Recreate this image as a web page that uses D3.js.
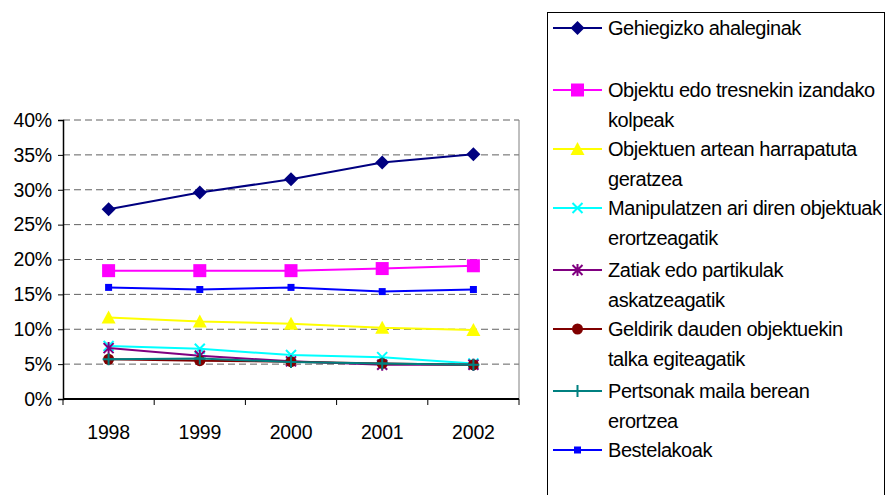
<!DOCTYPE html>
<html>
<head>
<meta charset="utf-8">
<script src="https://cdn.jsdelivr.net/npm/d3@7"></script>
<style>
  body { margin: 0; background: #fff; }
  svg { display: block; font-family: "Liberation Sans", Arial, sans-serif; }
</style>
</head>
<body>
<svg id="chart" width="887" height="495"></svg>
<script>
const years = ["1998", "1999", "2000", "2001", "2002"];
const yTicks = [0, 0.05, 0.10, 0.15, 0.20, 0.25, 0.30, 0.35, 0.40];

const gehiegizko = [0.272, 0.296, 0.315, 0.339, 0.351];
const objektu = [0.184, 0.184, 0.184, 0.187, 0.191];
const objektuen = [0.117, 0.111, 0.108, 0.102, 0.099];
const manipulatzen = [0.076, 0.072, 0.063, 0.060, 0.051];
const zatiak = [0.073, 0.062, 0.054, 0.049, 0.049];
const geldirik = [0.057, 0.055, 0.0535, 0.051, 0.049];
const pertsonak = [0.057, 0.058, 0.053, 0.051, 0.049];
const bestelakoak = [0.160, 0.157, 0.160, 0.154, 0.157];

const series = [
    {lines: ["Gehiegizko ahaleginak"], values: gehiegizko, color: "#000080", marker: "diamond"},
    {lines: ["Objektu edo tresnekin izandako", "kolpeak"], values: objektu, color: "#FF00FF", marker: "square"},
    {lines: ["Objektuen artean harrapatuta", "geratzea"], values: objektuen, color: "#FFFF00", marker: "triangle"},
    {lines: ["Manipulatzen ari diren objektuak", "erortzeagatik"], values: manipulatzen, color: "#00FFFF", marker: "x"},
    {lines: ["Zatiak edo partikulak", "askatzeagatik"], values: zatiak, color: "#800080", marker: "star"},
    {lines: ["Geldirik dauden objektuekin", "talka egiteagatik"], values: geldirik, color: "#800000", marker: "circle"},
    {lines: ["Pertsonak maila berean", "erortzea"], values: pertsonak, color: "#008080", marker: "plus"},
    {lines: ["Bestelakoak"], values: bestelakoak, color: "#0000FF", marker: "smallsquare"}
];

const plot = {left: 63, right: 519, top: 120, bottom: 399};

const svg = d3.select("#chart");

const x = d3.scaleBand()
    .domain(years)
    .range([plot.left, plot.right]);

const y = d3.scaleLinear()
    .domain([0, 0.4])
    .range([plot.bottom, plot.top]);

// gridlines
svg.append("g")
    .selectAll("line")
    .data(yTicks.filter(d => d > 0))
    .join("line")
    .attr("x1", plot.left)
    .attr("x2", plot.right)
    .attr("y1", d => y(d))
    .attr("y2", d => y(d))
    .attr("stroke", "#606060")
    .attr("stroke-width", 1)
    .attr("stroke-dasharray", "7,4");

// right border of plot area
svg.append("line")
    .attr("x1", plot.right).attr("x2", plot.right)
    .attr("y1", plot.top).attr("y2", plot.bottom)
    .attr("stroke", "#808080");

// y axis
const yAxis = svg.append("g")
    .attr("transform", "translate(" + plot.left + ",0)")
    .call(d3.axisLeft(y).tickValues(yTicks).tickFormat(d3.format(".0%")).tickSize(5).tickPadding(6));
yAxis.select(".domain").attr("stroke", "#000").attr("stroke-width", 1.5);
yAxis.selectAll(".tick line").attr("stroke", "#000");
yAxis.selectAll("text")
    .attr("font-size", 19.5)
    .attr("font-family", "Liberation Sans, Arial, sans-serif")
    .attr("letter-spacing", "-0.2px")
    .attr("fill", "#000");

// x axis with ticks between categories
const xAxis = svg.append("g")
    .attr("transform", "translate(0," + plot.bottom + ")");
xAxis.append("line")
    .attr("x1", plot.left).attr("x2", plot.right)
    .attr("stroke", "#000").attr("stroke-width", 2);
const bounds = years.map(d => x(d)).concat([plot.right]);
xAxis.selectAll(".xt")
    .data(bounds)
    .join("line")
    .attr("class", "xt")
    .attr("x1", d => d).attr("x2", d => d)
    .attr("y1", 0).attr("y2", 6)
    .attr("stroke", "#000");
xAxis.selectAll(".xl")
    .data(years)
    .join("text")
    .attr("class", "xl")
    .attr("x", d => x(d) + x.bandwidth() / 2)
    .attr("y", 40)
    .attr("text-anchor", "middle")
    .attr("font-size", 19.5)
    .attr("letter-spacing", "-0.2px")
    .text(d => d);

const cx = (d, i) => x(years[i]) + x.bandwidth() / 2;

const drawMarker = (g, type, color) => {
    if (type === "diamond") {
        g.append("path").attr("d", "M0,-7L7,0L0,7L-7,0Z").attr("fill", color);
    } else if (type === "square") {
        g.append("rect").attr("x", -6.5).attr("y", -6.5).attr("width", 13).attr("height", 13).attr("fill", color);
    } else if (type === "smallsquare") {
        g.append("rect").attr("x", -3.5).attr("y", -3.5).attr("width", 7).attr("height", 7).attr("fill", color);
    } else if (type === "triangle") {
        g.append("path").attr("d", "M0,-7L7,6L-7,6Z").attr("fill", color);
    } else if (type === "x") {
        g.append("path").attr("d", "M-5,-5L5,5M-5,5L5,-5").attr("stroke", color).attr("stroke-width", 2);
    } else if (type === "star") {
        g.append("path").attr("d", "M-5,-5L5,5M-5,5L5,-5M0,-6L0,6").attr("stroke", color).attr("stroke-width", 2);
    } else if (type === "circle") {
        g.append("circle").attr("r", 5.5).attr("fill", color);
    } else if (type === "plus") {
        g.append("path").attr("d", "M-6,0L6,0M0,-6L0,6").attr("stroke", color).attr("stroke-width", 2);
    }
};

const line = d3.line()
    .x(cx)
    .y(d => y(d));

series.forEach(s => {
    const g = svg.append("g");
    g.append("path")
        .datum(s.values)
        .attr("fill", "none")
        .attr("stroke", s.color)
        .attr("stroke-width", 2)
        .attr("d", line);
    s.values.forEach((v, i) => {
        const m = g.append("g").attr("transform", "translate(" + cx(v, i) + "," + y(v) + ")");
        drawMarker(m, s.marker, s.color);
    });
});

// legend
const legend = svg.append("g");
legend.append("rect")
    .attr("x", 547.5).attr("y", 12.5)
    .attr("width", 337).attr("height", 500)
    .attr("fill", "#fff")
    .attr("stroke", "#000")
    .attr("stroke-width", 1);

const rowTop = [28, 90, 149, 208, 270, 329, 391, 450];
series.forEach((s, i) => {
    const ly = rowTop[i];
    const g = legend.append("g");
    g.append("line")
        .attr("x1", 553).attr("x2", 602)
        .attr("y1", ly).attr("y2", ly)
        .attr("stroke", s.color).attr("stroke-width", 2);
    const m = g.append("g").attr("transform", "translate(577.5," + ly + ")");
    drawMarker(m, s.marker, s.color);
    s.lines.forEach((t, j) => {
        g.append("text")
            .attr("x", 608)
            .attr("y", ly + j * 29.5)
            .attr("dy", "0.35em")
            .attr("font-size", 20)
            .attr("letter-spacing", "-0.45px")
            .attr("fill", "#000")
            .text(t);
    });
});
</script>
</body>
</html>
